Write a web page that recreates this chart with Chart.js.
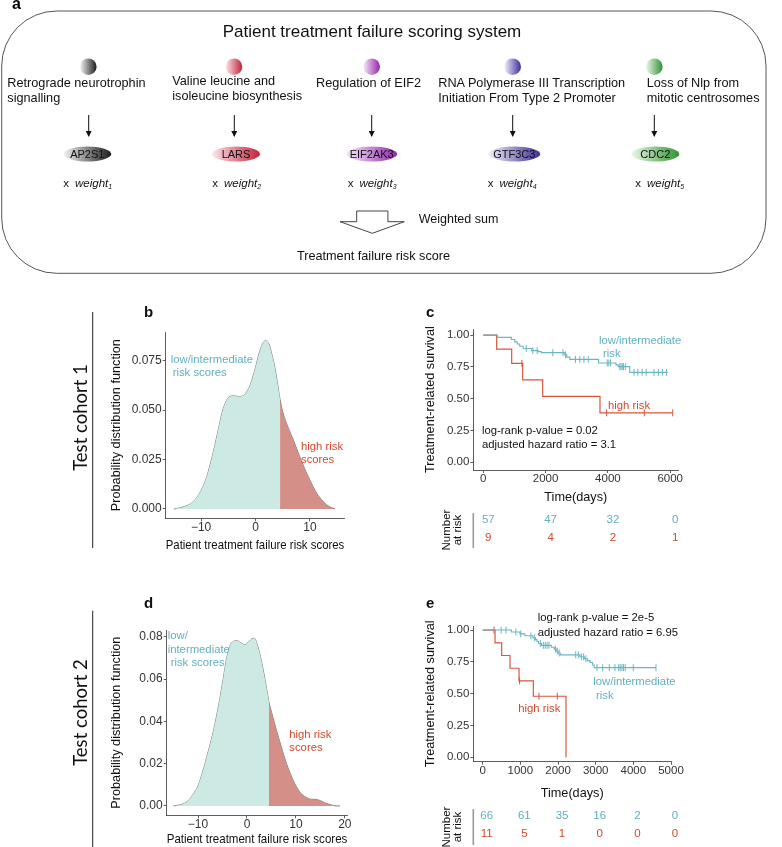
<!DOCTYPE html>
<html><head><meta charset="utf-8">
<script src="https://cdn.jsdelivr.net/npm/chart.js@4/dist/chart.umd.min.js"></script>
<style>
body{margin:0;background:#fff;}
#wrap{position:relative;width:782px;height:847px;overflow:hidden;background:#fff;}
canvas{position:absolute;}
#ov{position:absolute;left:0;top:0;pointer-events:none;}
</style></head>
<body><div id="wrap">
<canvas id="cb" width="260" height="235" style="left:100px;top:322px"></canvas>
<canvas id="cc" width="300" height="250" style="left:400px;top:305px"></canvas>
<canvas id="cd" width="265" height="247" style="left:100px;top:600px"></canvas>
<canvas id="ce" width="300" height="257" style="left:400px;top:590px"></canvas>
<svg id="ov" width="782" height="847" font-family="'Liberation Sans', Arial, Helvetica, sans-serif">
<defs>
 <linearGradient id="g1" x1="0" x2="1" y1="0" y2="0"><stop offset="0" stop-color="#f4f4f4"/><stop offset="1" stop-color="#1c1c1c"/></linearGradient>
 <linearGradient id="g2" x1="0" x2="1" y1="0" y2="0"><stop offset="0" stop-color="#fbe6e8"/><stop offset="1" stop-color="#c3213a"/></linearGradient>
 <linearGradient id="g3" x1="0" x2="1" y1="0" y2="0"><stop offset="0" stop-color="#f6e8f8"/><stop offset="1" stop-color="#9324b0"/></linearGradient>
 <linearGradient id="g4" x1="0" x2="1" y1="0" y2="0"><stop offset="0" stop-color="#efeefa"/><stop offset="1" stop-color="#3e2f98"/></linearGradient>
 <linearGradient id="g5" x1="0" x2="1" y1="0" y2="0"><stop offset="0" stop-color="#ecf7ea"/><stop offset="1" stop-color="#2f9432"/></linearGradient>
 <marker id="ah" markerWidth="6" markerHeight="6" refX="3" refY="5" orient="0" markerUnits="userSpaceOnUse"><path d="M0,0 L6,0 L3,6 z" fill="#111"/></marker>
</defs>
<!-- panel a -->
<text x="12" y="9.3" font-weight="bold" font-size="16">a</text>
<rect x="1.7" y="11" width="764.3" height="262.3" rx="55" ry="55" fill="none" stroke="#555" stroke-width="1"/>
<text x="372" y="31.7" font-size="17" text-anchor="middle" dominant-baseline="central" fill="#111">Patient treatment failure scoring system</text>
<g id="spheres"></g>
<g font-size="12.7" fill="#111" dominant-baseline="central">
 <text x="7.3" y="82.7">Retrograde neurotrophin</text><text x="7.3" y="98.3">signalling</text>
 <text x="172.3" y="80.7">Valine leucine and</text><text x="172.3" y="96">isoleucine biosynthesis</text>
 <text x="316" y="82.7">Regulation of EIF2</text>
 <text x="438.3" y="82.7">RNA Polymerase III Transcription</text><text x="438.3" y="98.3">Initiation From Type 2 Promoter</text>
 <text x="646.7" y="82.7">Loss of Nlp from</text><text x="646.7" y="98.3">mitotic centrosomes</text>
</g>
<g id="genes"></g>
<polygon points="356.7,211 387.9,211 387.9,221.7 404.3,221.7 372.3,233.3 340,221.7 356.7,221.7" fill="#fff" stroke="#444" stroke-width="1"/>
<text x="418.7" y="219.3" font-size="12.5" dominant-baseline="central" fill="#111">Weighted sum</text>
<text x="373.5" y="256" font-size="12.7" text-anchor="middle" dominant-baseline="central" fill="#111">Treatment failure risk score</text>
<!-- cohort labels -->
<text transform="translate(79.5,417.5) rotate(-90)" text-anchor="middle" dominant-baseline="central" font-family="Lato" font-size="18.5" fill="#111">Test cohort 1</text>
<text transform="translate(79.5,712.5) rotate(-90)" text-anchor="middle" dominant-baseline="central" font-family="Lato" font-size="18.5" fill="#111">Test cohort 2</text>
<line x1="92.7" y1="312" x2="92.7" y2="548" stroke="#222" stroke-width="1"/>
<line x1="92.7" y1="610.7" x2="92.7" y2="847" stroke="#222" stroke-width="1"/>
<g font-weight="bold" font-size="15" fill="#111">
 <text x="144" y="316.7">b</text><text x="426" y="316.7">c</text>
 <text x="144" y="608.3">d</text><text x="426" y="608.3">e</text>
</g>
<!-- annotations -->
<g font-size="11.3" dominant-baseline="central">
 <g fill="#5fb0bf">
  <text x="170.7" y="359.3">low/intermediate</text><text x="172.7" y="371.7">risk scores</text>
  <text x="167.7" y="635">low/</text><text x="167.7" y="649.3">intermediate</text><text x="170.7" y="662.3">risk scores</text>
  <text x="599" y="340">low/intermediate</text><text x="603" y="353.3">risk</text>
  <text x="593.3" y="681">low/intermediate</text><text x="596" y="695">risk</text>
 </g>
 <g fill="#d2492d">
  <text x="301" y="446">high risk</text><text x="301" y="459.3">scores</text>
  <text x="289.3" y="734">high risk</text><text x="289.3" y="746.7">scores</text>
  <text x="608" y="405">high risk</text>
  <text x="518.3" y="707.7">high risk</text>
 </g>
 <g fill="#111">
  <text x="482" y="430">log-rank p-value = 0.02</text><text x="482" y="444.3">adjusted hazard ratio = 3.1</text>
  <text x="537.7" y="617.3">log-rank p-value = 2e-5</text><text x="537.7" y="631.7">adjusted hazard ratio = 6.95</text>
 </g>
</g>
<g font-size="11.5" fill="#111" text-anchor="middle" dominant-baseline="central">
 <text transform="translate(446,530) rotate(-90)">Number</text><text transform="translate(456.5,530) rotate(-90)">at risk</text>
 <text transform="translate(446,827) rotate(-90)">Number</text><text transform="translate(456.5,827) rotate(-90)">at risk</text>
</g>
</svg>
</div>
<script>
// ---------- panel a content ----------
const pathwayGenes = ['AP2S1','LARS','EIF2AK3','GTF3C3','CDC2'];
const weightIdx = ['1','2','3','4','5'];

// ---------- density data (panel b, cohort 1) ----------
const scoreB = [-15,-14,-13,-12,-11,-10,-9,-8,-7,-6,-5,-4,-3,-2,-1,0,0.5,1,1.8,2.5,3,3.5,4,4.5,5,6,7,8,9,10,11,12,13,14,14.6];
const densB  = [0,0.0005,0.0013,0.0025,0.005,0.0093,0.016,0.026,0.038,0.050,0.0562,0.0571,0.0568,0.0578,0.0625,0.0715,0.077,0.0815,0.085,0.083,0.078,0.072,0.064,0.0553,0.049,0.041,0.0345,0.0272,0.0205,0.0145,0.009,0.005,0.0022,0.0006,0];
const cutB = 4.5;
const xTicksB = [-10,0,10], xLabelsB = ['\u221210','0','10'];
const yTicksB = [0,0.025,0.05,0.075], yLabelsB = ['0.000','0.025','0.050','0.075'];

// ---------- density data (panel d, cohort 2) ----------
const scoreD = [-15,-14,-13,-12,-11,-10,-9,-8,-7,-6,-5,-4,-3,-2,-1,-0.4,0,1,1.5,2,3,4,4.5,5,6,7,8,9,10,11,12,13,14,15,16,17,18,19];
const densD  = [0,0.0004,0.001,0.0025,0.0055,0.0095,0.0165,0.025,0.034,0.045,0.058,0.0715,0.0775,0.0781,0.0768,0.0761,0.0768,0.079,0.0793,0.077,0.068,0.0555,0.049,0.0445,0.036,0.028,0.0205,0.0145,0.0095,0.006,0.0042,0.0032,0.0031,0.0025,0.0014,0.0006,0.0001,0];
const cutD = 4.5;
const xTicksD = [-10,0,10,20], xLabelsD = ['\u221210','0','10','20'];
const yTicksD = [0,0.02,0.04,0.06,0.08], yLabelsD = ['0.00','0.02','0.04','0.06','0.08'];

// ---------- Kaplan-Meier (panel c, cohort 1) ----------
const timeC_low = [0,450,900,1010,1090,1170,1280,1550,1760,1862,2600,2680,2780,3700,4260,4330,4700,5920];
const survC_low = [1,0.982,0.965,0.947,0.93,0.912,0.895,0.878,0.87,0.862,0.845,0.827,0.809,0.781,0.766,0.752,0.707,0.707];
const censC_low = [1380,1590,1730,2230,2560,2640,2960,3100,3230,3370,3980,4030,4085,4380,4420,4460,4500,4560,4840,4960,5100,5230,5480,5620,5750,5880];
const timeC_high = [0,430,911,1264,1906,3746,6080];
const survC_high = [1,0.889,0.778,0.648,0.519,0.389,0.389];
const censC_high = [1240,3960,5168,6080];
const riskTimesC = [0,2000,4000,6000];
const riskLowC = [57,47,32,0];
const riskHighC = [9,4,2,1];
const xTicksC = [0,2000,4000,6000], xLabelsC = ['0','2000','4000','6000'];
const yTicksKM = [0,0.25,0.5,0.75,1], yLabelsKM = ['0.00','0.25','0.50','0.75','1.00'];

// ---------- Kaplan-Meier (panel e, cohort 2) ----------
const timeE_low = [0,760,990,1120,1330,1400,1440,1480,1560,1820,1900,1950,2000,2060,2580,2700,2780,2850,2920,2960,4600];
const survE_low = [1,0.985,0.97,0.955,0.94,0.925,0.91,0.895,0.88,0.865,0.85,0.835,0.82,0.805,0.79,0.775,0.76,0.745,0.725,0.705,0.705];
const censE_low = [490,620,880,1010,1280,1380,1530,1610,1660,1710,1760,1930,1980,2030,2470,2540,2620,2680,2740,3035,3186,3361,3512,3611,3650,3698,3740,3786,3999,4601];
const timeE_high = [0,327,504,725,964,1344,2212];
const survE_high = [1,0.9,0.8,0.7,0.6,0.48,0];
const censE_high = [300,980,1495,1981];
const riskTimesE = [0,1000,2000,3000,4000,5000];
const riskLowE = [66,61,35,16,2,0];
const riskHighE = [11,5,1,0,0,0];
const xTicksE = [0,1000,2000,3000,4000,5000], xLabelsE = ['0','1000','2000','3000','4000','5000'];

// ---------- styles ----------
const FONT = "'Liberation Sans', Arial, Helvetica, sans-serif";
const TEAL_FILL = '#cde9e3', RED_FILL = '#d38f88';
const TEAL = '#6ab6c3', RED = '#d6573c';
const TEAL_T = '#5fb0bf', RED_T = '#d2492d';
Chart.defaults.font.family = FONT;
Chart.defaults.color = '#333';

// panel a drawing
(function(){
  const ns = 'http://www.w3.org/2000/svg';
  const sph = document.getElementById('spheres');
  const gen = document.getElementById('genes');
  const sx = [88.3,234,371.7,512.7,654.3];
  const ax = [88.7,234.3,371.7,512.7,654.3];
  const ex = [87.3,236,371.7,514.3,655.3];
  const erx = [24,24,25.5,26,24];
  const wx = [63.3,212.3,347.7,487.7,635.3];
  function el(tag, attrs, parent, txt){const e=document.createElementNS(ns,tag);for(const k in attrs)e.setAttribute(k,attrs[k]);if(txt!==undefined)e.textContent=txt;parent.appendChild(e);return e;}
  for(let i=0;i<5;i++){
    el('circle',{cx:sx[i],cy:66.7,r:8.3,fill:'url(#g'+(i+1)+')'},sph);
    el('line',{x1:ax[i],y1:115,x2:ax[i],y2:136,stroke:'#111','stroke-width':1,'marker-end':'url(#ah)'},sph);
    el('ellipse',{cx:ex[i],cy:154,rx:erx[i],ry:7.5,fill:'url(#g'+(i+1)+')'},gen);
    el('text',{x:ex[i],y:154,'font-size':11,'text-anchor':'middle','dominant-baseline':'central',fill:'#111'},gen,pathwayGenes[i]);
    el('text',{x:wx[i],y:183.3,'font-size':11.5,'dominant-baseline':'central',fill:'#111'},gen,'x');
    const t = el('text',{x:wx[i]+11.7,y:183.3,'font-size':11.5,'font-style':'italic','dominant-baseline':'central',fill:'#111'},gen,'weight');
    const s = el('tspan',{'font-size':7,dy:2.5},t,weightIdx[i]);
  }
})();

function pts(xs, ys){ return xs.map((x,i)=>({x:x,y:ys[i]})); }
function kmAt(ts, ss, t){ let v=ss[0]; for(let i=0;i<ts.length;i++){ if(ts[i]<=t) v=ss[i]; } return v; }

function axis(min,max,ticks,labels,size,pad,extra){
  return Object.assign({
    type:'linear', min:min, max:max,
    afterBuildTicks: s => { s.ticks = ticks.map(v=>({value:v})); },
    ticks:{callback:(v,i)=>labels[i], font:{size:size}, color:'#333', padding:pad, autoSkip:false, maxRotation:0, minRotation:0},
    grid:{display:true, drawOnChartArea:false, drawTicks:true, tickLength:3, color:'#333', lineWidth:0.8},
    border:{display:true, color:'#333', width:0.8}
  }, extra||{});
}
function title(text, size, pt, pb){
  return {display:true, text:text, color:'#111', font:{size:size}, padding:{top:pt,bottom:pb}};
}

function densityChart(id, xs, ys, cut, xr, yr, xt, xl, yt, yl, layout){
  const all = pts(xs, ys);
  const low = all.filter(p=>p.x<=cut);
  const high = all.filter(p=>p.x>=cut);
  new Chart(document.getElementById(id), {
    type:'line',
    data:{datasets:[
      {data:low, fill:'origin', backgroundColor:TEAL_FILL, borderWidth:0, pointRadius:0, cubicInterpolationMode:'monotone'},
      {data:high, fill:'origin', backgroundColor:RED_FILL, borderWidth:0, pointRadius:0, cubicInterpolationMode:'monotone'},
      {data:all, fill:false, borderColor:'#555', borderWidth:0.8, pointRadius:0, cubicInterpolationMode:'monotone'}
    ]},
    options:{
      responsive:false, animation:false, events:[],
      plugins:{legend:{display:false}, tooltip:{enabled:false}},
      layout:{padding:layout.padding},
      scales:{
        x: axis(xr[0],xr[1],xt,xl,12,-1,{title:title('Patient treatment failure risk scores',12.7,0,0), afterFit:s=>{s.height=layout.xh;}}),
        y: axis(yr[0],yr[1],yt,yl,12,1,{title:title('Probability distribution function',12.7,layout.ypt,0), afterFit:s=>{s.width=layout.yw;}})
      }
    }
  });
}

densityChart('cb', scoreB, densB, cutB, [-16.5,16.3], [-0.0047,0.0894], xTicksB, xLabelsB, yTicksB, yLabelsB,
  {padding:{left:0,right:15.7,top:10,bottom:3.8}, xh:34.9, yw:65.7, ypt:9.1});
densityChart('cd', scoreD, densD, cutD, [-16.4,20.5], [-0.0044,0.0832], xTicksD, xLabelsD, yTicksD, yLabelsD,
  {padding:{left:0,right:17.7,top:30,bottom:0.1}, xh:31.6, yw:66.7, ypt:9.1});

function kmChart(id, lowT, lowS, lowC, highT, highS, highC, xr, yr, xt, xl, riskT, riskL, riskH, layout){
  const riskPlugin = {id:'risk', afterDraw(chart){
    const ctx = chart.ctx, xs = chart.scales.x;
    ctx.save();
    ctx.strokeStyle = '#9a9a9a'; ctx.lineWidth = 1.6;
    ctx.beginPath(); ctx.moveTo(chart.chartArea.left, layout.lineY[0]); ctx.lineTo(chart.chartArea.left, layout.lineY[1]); ctx.stroke();
    ctx.font = '11.5px ' + FONT; ctx.textAlign = 'center'; ctx.textBaseline = 'middle';
    riskT.forEach((t,i)=>{
      const px = xs.getPixelForValue(t) + layout.off;
      ctx.fillStyle = TEAL_T; ctx.fillText(String(riskL[i]), px, layout.rowY[0]);
      ctx.fillStyle = RED_T; ctx.fillText(String(riskH[i]), px, layout.rowY[1]);
    });
    ctx.restore();
  }};
  const cens = (ts,ss,cs)=>cs.map(t=>({x:t,y:kmAt(ts,ss,t)}));
  new Chart(document.getElementById(id), {
    type:'line',
    data:{datasets:[
      {data:pts(lowT,lowS), stepped:'before', borderColor:TEAL, borderWidth:1.1, pointRadius:0, fill:false},
      {data:pts(highT,highS), stepped:'before', borderColor:RED, borderWidth:1.2, pointRadius:0, fill:false},
      {data:cens(lowT,lowS,lowC), showLine:false, pointStyle:'line', pointRotation:90, pointRadius:3.5, pointBorderColor:TEAL, pointBorderWidth:1, pointBackgroundColor:TEAL},
      {data:cens(highT,highS,highC), showLine:false, pointStyle:'line', pointRotation:90, pointRadius:3.5, pointBorderColor:RED, pointBorderWidth:1, pointBackgroundColor:RED}
    ]},
    options:{
      responsive:false, animation:false, events:[],
      plugins:{legend:{display:false}, tooltip:{enabled:false}},
      layout:{padding:layout.padding},
      scales:{
        x: axis(xr[0],xr[1],xt,xl,11.5,-1,{title:title('Time(days)',12.7,0,layout.xpb), afterFit:s=>{s.height=layout.xh;}}),
        y: axis(yr[0],yr[1],yTicksKM,yLabelsKM,11.5,1,{title:title('Treatment-related survival',12.7,layout.ypt,0), afterFit:s=>{s.width=layout.yw;}})
      }
    },
    plugins:[riskPlugin]
  });
}

kmChart('cc', timeC_low, survC_low, censC_low, timeC_high, survC_high, censC_high, [-321,6260], [-0.0605,1.0456], xTicksC, xLabelsC, riskTimesC, riskLowC, riskHighC,
  {padding:{left:0,right:21.7,top:24.3,bottom:50.1}, xh:34.9, xpb:0, yw:73.3, ypt:22.7, off:5, rowY:[215,233], lineY:[208,243]});
kmChart('ce', timeE_low, survE_low, censE_low, timeE_high, survE_high, censE_high, [-250,5000], [-0.0346,1.032], xTicksE, xLabelsE, riskTimesE, riskLowE, riskHighE,
  {padding:{left:0,right:29,top:36,bottom:46.1}, xh:39.2, xpb:0, yw:73.3, ypt:22.7, off:4, rowY:[225.7,244], lineY:[219,255]});
</script>
</body></html>
